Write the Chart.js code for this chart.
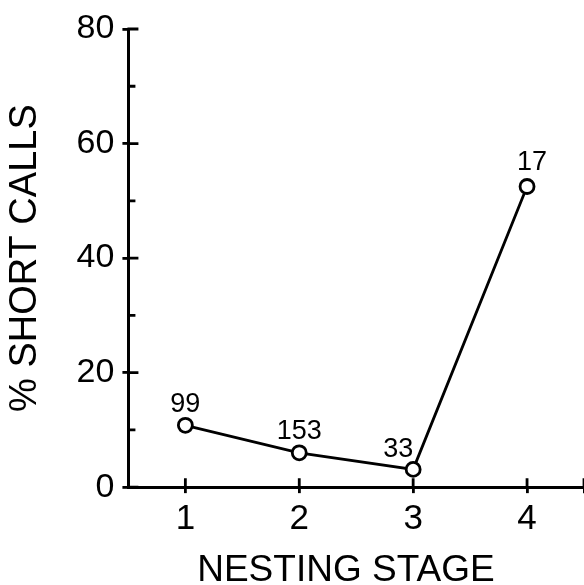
<!DOCTYPE html>
<html>
<head>
<meta charset="utf-8">
<script src="https://cdn.jsdelivr.net/npm/chart.js@4"></script>
<style>
  html, body { margin: 0; padding: 0; background: #fff; }
  #wrap { width: 584px; height: 585px; }
</style>
</head>
<body>
<div id="wrap"><canvas id="grafico"></canvas></div>
<script>
// dados
const estagios = [1, 2, 3, 4];
const pctCurtas = [10.8, 6.0, 3.1, 52.5];
const nAmostra = ['99', '153', '33', '17'];
const xTicks = [1, 2, 3, 4, 4.5];
const xLabels = ['1', '2', '3', '4', ''];
const yTicks = [0, 10, 20, 30, 40, 50, 60, 70, 80];
const yLabels = ['0', '', '20', '', '40', '', '60', '', '80'];

const FONTE = "'Liberation Sans', Arial, Helvetica, sans-serif";
const PRETO = '#000';

// deslocamento dos rótulos de n em relação ao ponto (px)
const deslocRotulo = [[0, -13], [0, -14], [-15, -12], [5, -16]];

// marcas de escala para dentro do gráfico (cruzando o eixo)
const ticksInternos = {
  id: 'ticksInternos',
  beforeDatasetsDraw(chart) {
    const { ctx, scales: { x, y } } = chart;
    ctx.save();
    ctx.strokeStyle = PRETO;
    ctx.lineWidth = 2.8;
    ctx.beginPath();
    x.ticks.forEach(t => {
      const px = x.getPixelForValue(t.value);
      ctx.moveTo(px, x.top + 1);
      ctx.lineTo(px, x.top - 9);
    });
    y.ticks.forEach(t => {
      const py = y.getPixelForValue(t.value);
      const len = t.value % 20 === 0 ? 10 : 7;
      ctx.moveTo(y.right - 1, py);
      ctx.lineTo(y.right + len, py);
    });
    ctx.stroke();
    ctx.restore();
  }
};

// rótulos com o tamanho da amostra acima de cada ponto
const rotulosN = {
  id: 'rotulosN',
  afterDatasetsDraw(chart) {
    const { ctx } = chart;
    const pts = chart.getDatasetMeta(0).data;
    ctx.save();
    ctx.fillStyle = PRETO;
    ctx.font = '27px ' + FONTE;
    ctx.textAlign = 'center';
    ctx.textBaseline = 'alphabetic';
    pts.forEach((p, i) => {
      const d = deslocRotulo[i];
      ctx.fillText(nAmostra[i], p.x + d[0], p.y + d[1]);
    });
    ctx.restore();
  }
};

const grafico = new Chart(document.getElementById('grafico'), {
  type: 'line',
  data: {
    datasets: [{
      data: estagios.map((e, i) => ({ x: e, y: pctCurtas[i] })),
      borderColor: PRETO,
      borderWidth: 2.8,
      tension: 0,
      pointStyle: 'circle',
      pointRadius: 7,
      pointBorderWidth: 2.8,
      pointBorderColor: PRETO,
      pointBackgroundColor: '#fff',
      clip: false
    }]
  },
  options: {
    responsive: true,
    maintainAspectRatio: false,
    animation: false,
    devicePixelRatio: 1,
    layout: { autoPadding: false, padding: { left: 0, top: 29, right: 0, bottom: 0 } },
    plugins: { legend: { display: false }, tooltip: { enabled: false } },
    scales: {
      x: {
        type: 'linear',
        min: 0.5,
        max: 4.5,
        afterBuildTicks: s => { s.ticks = xTicks.map(v => ({ value: v })); },
        // o eixo vai até a borda direita
        afterFit: s => { s.paddingRight = 0; },
        border: { display: true, color: PRETO, width: 3 },
        grid: { drawOnChartArea: false, drawTicks: true, tickLength: 6, color: PRETO, lineWidth: 2.8 },
        ticks: {
          color: PRETO,
          padding: 9,
          font: { family: FONTE, size: 35, lineHeight: 1 },
          callback: (v, i) => xLabels[i]
        },
        title: {
          display: true,
          text: 'NESTING STAGE  ',
          color: PRETO,
          font: { family: FONTE, size: 37, lineHeight: 0.78 },
          padding: { top: 10, bottom: 0 }
        }
      },
      y: {
        type: 'linear',
        min: 0,
        max: 80,
        afterBuildTicks: s => { s.ticks = yTicks.map(v => ({ value: v })); },
        border: { display: true, color: PRETO, width: 3 },
        grid: {
          drawOnChartArea: false,
          drawTicks: true,
          tickLength: 6,
          lineWidth: 2.8,
          color: c => (c.tick && c.tick.value % 20 === 0) ? PRETO : 'rgba(0,0,0,0)'
        },
        ticks: {
          color: PRETO,
          padding: 8,
          font: { family: FONTE, size: 34, lineHeight: 1 },
          callback: (v, i) => yLabels[i]
        },
        title: {
          display: true,
          text: '% SHORT CALLS',
          color: PRETO,
          font: { family: FONTE, size: 38, lineHeight: 1.2 },
          padding: { top: 3, bottom: 20 }
        }
      }
    }
  },
  plugins: [ticksInternos, rotulosN]
});
</script>
</body>
</html>
